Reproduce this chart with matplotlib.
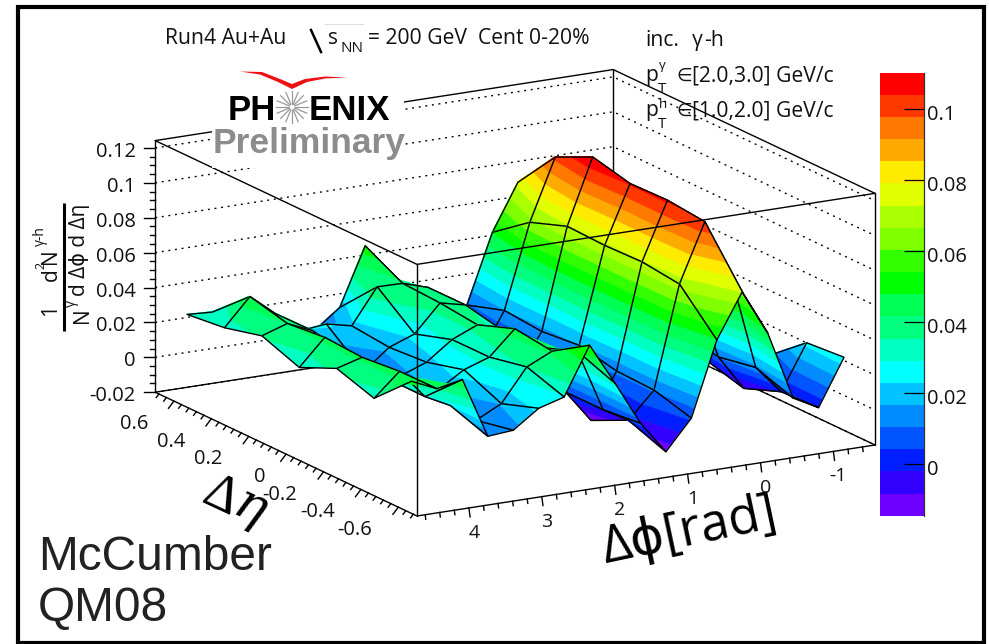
import numpy as np
import matplotlib
matplotlib.use("Agg")
import matplotlib.pyplot as plt
from matplotlib.patches import Rectangle, Polygon
from matplotlib.transforms import ScaledTranslation
from mpl_toolkits.mplot3d.art3d import Poly3DCollection
from mpl_toolkits.mplot3d import proj3d

plt.rcParams['font.family'] = ['Open Sans', 'DejaVu Sans']

# ---------------- data ----------------
dphi_centers = np.pi * (3 / 2 - (np.arange(18) + 0.5) / 9)   # index 0 = largest dphi
deta_centers = np.array([-0.6, -0.4, -0.2, 0.0, 0.2, 0.4, 0.6])

z_eta_m06 = [.0513, .0448, .0478, .0130, .0142, .0245, .0287, .0561, .0321, .0069, -.0117, .0053, .0478, .0732, .0473, .0077, .0000, .0266]
z_eta_m04 = [.0314, .0446, .0279, .0205, .0097, .0170, .0358, .0426, .0402, .0046, -.0038, .0112, .0697, .1032, .0715, .0152, -.0010, .0248]
z_eta_m02 = [.0384, .0425, .0280, .0218, .0172, .0263, .0313, .0453, .0324, .0045, -.0140, .0120, .0723, .1054, .0544, .0111, -.0092, .0074]
z_eta_00 = [.0288, .0438, .0300, .0213, .0151, .0205, .0312, .0374, .0319, .0125, .0045, .0166, .0716, .1048, .0471, .0162, -.0032, .0003]
z_eta_p02 = [.0368, .0416, .0352, .0198, .0072, .0189, .0243, .0398, .0364, .0099, -.0072, .0144, .0724, .1099, .0484, .0117, -.0019, .0015]
z_eta_p04 = [.0313, .0469, .0349, .0228, .0244, .0211, .0412, .0409, .0363, .0036, -.0084, .0163, .0646, .0997, .0440, .0131, -.0007, -.0001]
z_eta_p06 = [.0288, .0279, .0167, .0108, .0040, .0081, .0192, .0523, .0185, -.0066, -.0117, .0093, .0487, .0751, .0366, .0086, -.0051, -.0045]

band_colors = ['#6e00ff', '#3200ff', '#001eff', '#0055ff', '#008cff', '#00c3ff', '#00ffff', '#00ffc3',
               '#00ff80', '#00ff55', '#00ff00', '#32ff00', '#80ff00', '#aaff00', '#e1ff00', '#ffeb00',
               '#ffaa00', '#ff7800', '#ff3800', '#ff0000']
z_low, z_high = -0.0147, 0.1103

phi_lim = (4.712, -1.571)
eta_lim = (-0.7, 0.7)
z_lim = (-0.02, 0.1242)
z_ticks = [-0.02, 0, 0.02, 0.04, 0.06, 0.08, 0.1, 0.12]
phi_ticks = [4, 3, 2, 1, 0, -1]
eta_ticks = [0.6, 0.4, 0.2, 0, -0.2, -0.4, -0.6]
cbar_ticks = [0, 0.02, 0.04, 0.06, 0.08, 0.1]

Z = np.array([z_eta_m06, z_eta_m04, z_eta_m02, z_eta_00, z_eta_p02, z_eta_p04, z_eta_p06])

# ---------------- figure / 3D axes ----------------
W_PX, H_PX = 989, 644
fig = plt.figure(figsize=(W_PX / 100, H_PX / 100), dpi=100, facecolor='white')
ax = fig.add_axes([0, 0, 1, 1], projection='3d', computed_zorder=False)
ax.set_proj_type('ortho')
ax.set_box_aspect((528, 527, 261.5))
ax.view_init(elev=15.71, azim=-119.8)
ax.set_xlim(*phi_lim)
ax.set_ylim(*eta_lim)
ax.set_zlim(*z_lim)
ax.set_axis_off()
ax.patch.set_alpha(0)
ax.apply_aspect()

# place the box in the figure: front-bottom corner and width of the phi edge
M = ax.get_proj()


def frac(x, y, z):
    a, b, _ = proj3d.proj_transform(x, y, z, M)
    return ax.transAxes.inverted().transform(ax.transData.transform((a, b)))


uF = frac(phi_lim[0], eta_lim[0], z_lim[0])
uR = frac(phi_lim[1], eta_lim[0], z_lim[0])
ref_a = proj3d.proj_transform(phi_lim[0], eta_lim[0], z_lim[0], M)[:2]
ref_b = proj3d.proj_transform(phi_lim[1], eta_lim[1], z_lim[1], M)[:2]
uA, uB = frac(phi_lim[0], eta_lim[0], z_lim[0]), frac(phi_lim[1], eta_lim[1], z_lim[1])
sx = (uB[0] - uA[0]) / (ref_b[0] - ref_a[0])
sy = (uB[1] - uA[1]) / (ref_b[1] - ref_a[1])

side = 458.0 / (uR[0] - uF[0])
x0 = 417.0 - side * uF[0]
y0 = (H_PX - 516.0) - side * uF[1]
ax.set_position([x0 / W_PX, y0 / H_PX, side / W_PX, side / H_PX])


def to_px(x, y, z):
    a, b, _ = proj3d.proj_transform(x, y, z, M)
    ux = uA[0] + sx * (a - ref_a[0])
    uy = uA[1] + sy * (b - ref_a[1])
    return x0 + side * ux, H_PX - (y0 + side * uy)


# ---------------- box (back) ----------------
pmax, pmin = phi_lim
emin, emax = eta_lim
zb, zt = z_lim
BK = dict(color='k', lw=1.0, zorder=2, solid_capstyle='round')
DOT = dict(color='k', lw=1.0, linestyle=(0, (1.4, 3.4)), zorder=1)
for z in z_ticks:
    ax.plot([pmax, pmin, pmin], [emax, emax, emin], [z, z, z], **DOT)
ax.plot([pmax, pmin, pmin], [emax, emax, emin], [zb, zb, zb], **BK)
ax.plot([pmax, pmin, pmin], [emax, emax, emin], [zt, zt, zt], **BK)
ax.plot([pmin, pmin], [emax, emax], [zb, zt], **BK)
ax.plot([pmin, pmin], [emin, emin], [zb, zt], **BK)

# ---------------- surface ----------------
levels = np.linspace(z_low, z_high, len(band_colors) + 1)


def clip_half(poly, level, keep_above):
    out = []
    n = len(poly)
    for i in range(n):
        p, q = poly[i], poly[(i + 1) % n]
        dp = p[2] - level if keep_above else level - p[2]
        dq = q[2] - level if keep_above else level - q[2]
        if dp >= 0:
            out.append(p)
        if dp * dq < 0:
            t = dp / (dp - dq)
            out.append(tuple(p[m] + t * (q[m] - p[m]) for m in range(3)))
    return out


order = 10
for k in range(16, -1, -1):
    for j in range(5, -1, -1):
        quad = [(dphi_centers[k], deta_centers[j], Z[j, k]),
                (dphi_centers[k + 1], deta_centers[j], Z[j, k + 1]),
                (dphi_centers[k + 1], deta_centers[j + 1], Z[j + 1, k + 1]),
                (dphi_centers[k], deta_centers[j + 1], Z[j + 1, k])]
        polys, cols = [], []
        for b, col in enumerate(band_colors):
            lo = levels[b] if b > 0 else -1.0
            hi = levels[b + 1] if b < len(band_colors) - 1 else 1.0
            piece = clip_half(clip_half(quad, lo, True), hi, False)
            if len(piece) >= 3:
                polys.append(np.array(piece))
                cols.append(col)
        fill = Poly3DCollection(polys, facecolors=cols, edgecolors=cols, linewidths=0.4, zorder=order)
        ax.add_collection3d(fill, autolim=False)
        mesh = Poly3DCollection([np.array(quad)], facecolors=(0, 0, 0, 0), edgecolors='k',
                                linewidths=1.0, zorder=order + 0.5)
        ax.add_collection3d(mesh, autolim=False)
        order += 1

# ---------------- box (front) ----------------
FR = dict(color='k', lw=1.0, zorder=order + 5, solid_capstyle='round')
ax.plot([pmax, pmax, pmin], [emax, emin, emin], [zb, zb, zb], **FR)
ax.plot([pmax, pmax, pmin], [emax, emin, emin], [zt, zt, zt], **FR)
ax.plot([pmax, pmax], [emax, emax], [zb, zt], **FR)
ax.plot([pmax, pmax], [emin, emin], [zb, zt], **FR)
ax.set_xlim(*phi_lim)
ax.set_ylim(*eta_lim)
ax.set_zlim(*z_lim)

# ---------------- overlay in pixel space: ticks, labels, logo ----------------
ov = fig.add_axes([0, 0, 1, 1], zorder=5)
ov.set_xlim(0, W_PX)
ov.set_ylim(H_PX, 0)
ov.axis('off')
ov.patch.set_alpha(0)

TXT = dict(color='#111111', fontsize=14.5, va='center')

# z axis
for z in np.arange(-0.02, 0.1201, 0.005):
    px, py = to_px(pmax, emax, z)
    major = abs(z / 0.02 - round(z / 0.02)) < 1e-6
    ov.plot([px - (11 if major else 5), px], [py, py], color='k', lw=1.0)
for z in z_ticks:
    px, py = to_px(pmax, emax, z)
    ov.text(px - 19.5, py + 4, f'{z:g}', ha='right', **TXT)

# phi axis
for v in np.arange(-1.4, 4.61, 0.2):
    px, py = to_px(v, emin, zb)
    major = abs(v - round(v)) < 1e-6
    ln = 9 if major else 4.5
    ov.plot([px, px + 0.13 * ln], [py, py + ln], color='k', lw=1.0)
for v in phi_ticks:
    px, py = to_px(v, emin, zb)
    ov.text(px + 5, py + 25, f'{v:g}', ha='center', color='#111111', fontsize=14, va='center')

# eta axis
for v in np.arange(-0.68, 0.681, 0.04):
    px, py = to_px(pmax, v, zb)
    major = abs(v / 0.2 - round(v / 0.2)) < 1e-6
    ln = 9 if major else 4.5
    ov.plot([px, px - 0.6 * ln], [py, py + 0.8 * ln], color='k', lw=1.0)
for v in eta_ticks:
    px, py = to_px(pmax, v, zb)
    ov.text(px - (21 if v == 0 else 26), py + 23, f'{v:g}', ha='right', color='#111111', fontsize=14.5, va='center')

# axis titles
ov.text(246, 497, 'Δ', family='Liberation Serif', fontsize=38, rotation=-25, ha='right', va='center', color='k')
ov.text(225, 508, 'η', family='DejaVu Serif', style='italic', fontsize=37, rotation=-25, ha='left', va='center', color='k')
ov.text(689, 532, 'Δϕ[rad]', fontsize=37, rotation=12, ha='center', va='center', color='k', rotation_mode='anchor')

YL = dict(rotation=90, color='#111111', va='center', ha='center')
ov.plot([64, 64], [203, 331], color='k', lw=2.2, solid_capstyle='butt')
ov.text(51, 310, '1', fontsize=15, **YL)
ov.text(51, 274.5, 'd', fontsize=15, **YL)
ov.text(41, 265, '2', fontsize=9, **YL)
ov.text(51, 256.5, 'N', fontsize=15, **YL)
ov.text(40, 236, 'γ-h', fontsize=10, **YL)
ov.text(82, 315, 'N', fontsize=15, **YL)
ov.text(71, 303, 'γ', fontsize=10, **YL)
ov.text(80, 250, 'd Δϕ d Δη', fontsize=15, **YL)

# header text
HD = dict(color='#111111', va='baseline', fontsize=15.2)
ov.text(165, 44, 'Run4 Au+Au', **HD)
ov.plot([311, 321], [30, 52], color='k', lw=1.8)
ov.plot([325, 363], [24, 24], color='#dddddd', lw=0.8)
ov.text(328, 44, 's', **HD)
ov.text(340, 52, 'NN', color='#111111', va='baseline', fontsize=11)
ov.text(368, 44, '= 200 GeV  Cent 0-20%', **HD)
ov.text(645, 46, 'inc.', **HD)
ov.text(692, 46, 'γ', **HD)
ov.text(704, 46, '-h', **HD)
for yy, sup, up, rng in [(81, 'γ', 12, '[2.0,3.0] GeV/c'), (116, 'h', 8, '[1.0,2.0] GeV/c')]:
    ov.text(645, yy, 'p', **HD)
    ov.text(659, yy - up, sup, color='#111111', fontsize=9.5, va='baseline')
    ov.text(658, yy + 12, 'T', color='#111111', fontsize=11, va='baseline')
    ov.text(676, yy, '∈', color='#111111', va='baseline', fontsize=13)
    ov.text(692, yy, rng, **HD)

# logo
ov.add_patch(Rectangle((212, 60), 192, 108, facecolor='white', edgecolor='none', zorder=3))
ov.add_patch(Polygon([(240, 71.5), (262, 72), (280, 79), (292, 84), (305, 79), (325, 76.5), (347, 77.5),
                      (325, 78.5), (307, 82), (292, 89), (278, 82), (260, 74.5)],
                     facecolor='#ee1111', edgecolor='none', zorder=4))
LOGO = dict(family='Liberation Sans', weight='bold', va='baseline', zorder=4)
ov.text(228, 120, 'PH', color='k', fontsize=25, **LOGO)
ov.text(309, 120, 'ENIX', color='k', fontsize=25, **LOGO)
ov.text(213, 153, 'Preliminary', color='#8c8c8c', fontsize=25.5, **LOGO)
for ang in np.arange(0, 360, 22.5):
    ov.plot([292 + 3 * np.cos(np.radians(ang)), 292 + 16 * np.cos(np.radians(ang))],
            [107 + 3 * np.sin(np.radians(ang)), 107 + 16 * np.sin(np.radians(ang))],
            color='#999999', lw=0.9, zorder=4)

# signature
SG = dict(family='Liberation Sans', color='#222222', fontsize=34.5, va='baseline')
ov.text(38, 570, 'McCumber', **SG)
ov.text(38, 621, 'QM08', **SG)

# frame
ov.add_patch(Rectangle((18, 7), 965.5, 635.5, facecolor='none', edgecolor='k', lw=3.0, zorder=6))

# ---------------- colour scale ----------------
cax = fig.add_axes([880 / W_PX, 1 - 515.7 / H_PX, 43.5 / W_PX, (515.7 - 72.7) / H_PX], zorder=4)
cax.pcolormesh([0, 1], levels, np.arange(len(band_colors)).reshape(-1, 1),
               cmap=matplotlib.colors.ListedColormap(band_colors), shading='flat')
cax.set_xticks([])
cax.set_ylim(z_low, z_high)
cax.yaxis.tick_right()
cax.set_yticks(cbar_ticks)
cax.set_yticklabels([f'{v:g}' for v in cbar_ticks], fontsize=14.5, color='#111111')
cax.tick_params(axis='y', direction='in', length=14.5, width=0.9, pad=2.5, color='k')
shift = ScaledTranslation(0, -3.5 / 100, fig.dpi_scale_trans)
for lbl in cax.get_yticklabels():
    lbl.set_transform(lbl.get_transform() + shift)
for name in ('left', 'top', 'bottom'):
    cax.spines[name].set_visible(False)
cax.spines['right'].set_linewidth(0.9)
cax.spines['right'].set_color('#333333')

fig.savefig('out.png', dpi=100, facecolor='white')
